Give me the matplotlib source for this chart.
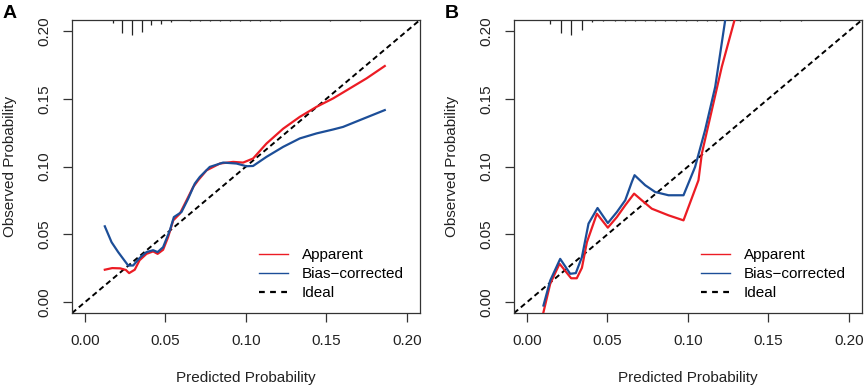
import numpy as np
import matplotlib.pyplot as plt
from matplotlib.lines import Line2D
from matplotlib import transforms

plt.rcParams['font.family'] = ['Liberation Sans', 'DejaVu Sans']

# ---- panel A data ----
a_app_x = [0.0124, 0.0170, 0.0220, 0.0255, 0.0275, 0.0310, 0.0340, 0.0383, 0.0424, 0.0452,
           0.0486, 0.0517, 0.0549, 0.0590, 0.0632, 0.0673, 0.0704, 0.0756, 0.0839, 0.0921,
           0.0983, 0.1045, 0.1128, 0.1232, 0.1335, 0.1439, 0.1542, 0.1646, 0.1750, 0.1863]
a_app_y = [0.0240, 0.0252, 0.0250, 0.0238, 0.0215, 0.0240, 0.0310, 0.0357, 0.0375, 0.0357,
           0.0387, 0.0480, 0.0604, 0.0653, 0.0752, 0.0850, 0.0900, 0.0973, 0.1023, 0.1035,
           0.1030, 0.1060, 0.1170, 0.1280, 0.1367, 0.1441, 0.1503, 0.1577, 0.1651, 0.1742]
a_bc_x = [0.0124, 0.0166, 0.0207, 0.0269, 0.0300, 0.0340, 0.0383, 0.0424, 0.0452, 0.0486,
          0.0528, 0.0553, 0.0600, 0.0642, 0.0683, 0.0714, 0.0776, 0.0859, 0.0942, 0.1004,
          0.1045, 0.1128, 0.1232, 0.1335, 0.1439, 0.1542, 0.1604, 0.1708, 0.1863]
a_bc_y = [0.0560, 0.0443, 0.0370, 0.0271, 0.0271, 0.0326, 0.0370, 0.0384, 0.0370, 0.0406,
          0.0530, 0.0628, 0.0665, 0.0764, 0.0875, 0.0924, 0.0998, 0.1030, 0.1023, 0.1003,
          0.1005, 0.1072, 0.1146, 0.1208, 0.1245, 0.1274, 0.1293, 0.1343, 0.1417]
a_rug_x = [0.0172, 0.0232, 0.0292, 0.0352, 0.0414, 0.0476, 0.0538, 0.0652, 0.0714, 0.0776,
           0.0839, 0.0901, 0.0963, 0.1025, 0.1087, 0.1149, 0.1211, 0.1522, 0.1708]
a_rug_f = [3.3, 13, 15, 12, 5, 4, 1.7, 1.2, 1.2, 1.2,
           1.2, 1.2, 1.2, 1.2, 1.2, 1.2, 1.2, 1.2, 1.2]

# ---- panel B data ----
b_app_x = [0.0103, 0.0145, 0.0203, 0.0275, 0.0310, 0.0342, 0.0373, 0.0435, 0.0503, 0.0559,
           0.0611, 0.0666, 0.0714, 0.0776, 0.0880, 0.0973, 0.1035, 0.1066, 0.1087, 0.1149,
           0.1211, 0.1299]
b_app_y = [-0.0074, 0.0136, 0.0284, 0.0177, 0.0177, 0.0254, 0.0443, 0.0653, 0.0550, 0.0628,
           0.0715, 0.0801, 0.0752, 0.0690, 0.0641, 0.0604, 0.0801, 0.0900, 0.1097, 0.1417,
           0.1737, 0.2120]
b_bc_x = [0.0103, 0.0145, 0.0207, 0.0269, 0.0304, 0.0342, 0.0383, 0.0439, 0.0503, 0.0559,
          0.0611, 0.0652, 0.0669, 0.0735, 0.0797, 0.0880, 0.0973, 0.1045, 0.1107, 0.1170,
          0.1237]
b_bc_y = [-0.0024, 0.0160, 0.0320, 0.0210, 0.0215, 0.0333, 0.0580, 0.0695, 0.0584, 0.0665,
          0.0752, 0.0887, 0.0937, 0.0863, 0.0813, 0.0789, 0.0789, 0.0998, 0.1269, 0.1589,
          0.2120]
b_rug_x = [0.0145, 0.0209, 0.0275, 0.0342, 0.0407, 0.0470, 0.0548, 0.0610, 0.0673, 0.0735,
           0.0797, 0.0859, 0.0927, 0.0990, 0.1055, 0.1120, 0.1172, 0.1325, 0.1450, 0.1570,
           0.1700]
b_rug_f = [4, 13, 15, 10, 2, 1.2, 1.2, 1.2, 1.2, 1.2,
           1.2, 1.2, 1.2, 1.2, 1.2, 1.2, 1.2, 1.2, 1.2, 1.2,
           1.2]

ticks = [0.00, 0.05, 0.10, 0.15, 0.20]
tick_labels = ['0.00', '0.05', '0.10', '0.15', '0.20']
legend_labels = ['Apparent', 'Bias\u2212corrected', 'Ideal']

RED = '#EC1C24'
BLUE = '#1C4E98'
FS = 11


def draw_panel(ax, app_x, app_y, bc_x, bc_y, rug_x, rug_f, letter, fig):
    ax.set_xlim(-0.008, 0.208)
    ax.set_ylim(-0.008, 0.208)
    ax.axline((0, 0), slope=1, color='black', lw=1.4, dashes=(2.8, 1.8), zorder=2)
    ax.plot(app_x, app_y, color=RED, lw=1.6, zorder=3)
    ax.plot(bc_x, bc_y, color=BLUE, lw=1.6, zorder=3)

    # rug of predicted probabilities hanging from the top
    trans = transforms.blended_transform_factory(ax.transData, ax.transAxes)
    maxf = max(rug_f)
    lengths = [f / maxf * 0.051 for f in rug_f]
    ax.vlines(rug_x, [1 - l for l in lengths], 1, transform=trans,
              color='#222222', lw=0.9, clip_on=False)

    ax.set_xticks(ticks)
    ax.set_xticklabels(tick_labels)
    ax.set_yticks(ticks)
    ax.set_yticklabels(tick_labels, rotation=90, va='center')
    ax.tick_params(direction='out', length=6.5, width=0.9, pad=8.5,
                   labelsize=FS, colors='#333333', labelcolor='#222222')
    for s in ax.spines.values():
        s.set_color('#333333')
        s.set_linewidth(0.9)

    ax.set_xlabel('Predicted Probability', fontsize=FS, color='#222222')
    ax.set_ylabel('Observed Probability', fontsize=FS, color='#222222')
    ax.xaxis.set_label_coords(0.5, -0.222)
    ax.yaxis.set_label_coords(-0.178, 0.5)
    ax.xaxis.label.set_va('center')
    ax.yaxis.label.set_va('center')

    handles = [Line2D([], [], color=RED, lw=1.0),
               Line2D([], [], color=BLUE, lw=1.0),
               Line2D([], [], color='black', lw=1.6, dashes=(2.6, 2.4))]
    ax.legend(handles, legend_labels, loc='upper left', bbox_to_anchor=(0.537, 0.222),
              frameon=False, fontsize=FS, handlelength=1.9, handletextpad=0.9,
              labelspacing=0.32, borderpad=0, borderaxespad=0)

    pos = ax.get_position()
    fig.text(pos.x0 - 0.080, 0.988, letter, fontsize=14, fontweight='bold',
             ha='left', va='top')


fig = plt.figure(figsize=(8.65, 3.88), dpi=100)
ax1 = fig.add_axes([0.0832, 0.193, 0.402, 0.755])
ax2 = fig.add_axes([0.5942, 0.193, 0.402, 0.755])

draw_panel(ax1, a_app_x, a_app_y, a_bc_x, a_bc_y, a_rug_x, a_rug_f, 'A', fig)
draw_panel(ax2, b_app_x, b_app_y, b_bc_x, b_bc_y, b_rug_x, b_rug_f, 'B', fig)

fig.savefig('out.png', dpi=100)
